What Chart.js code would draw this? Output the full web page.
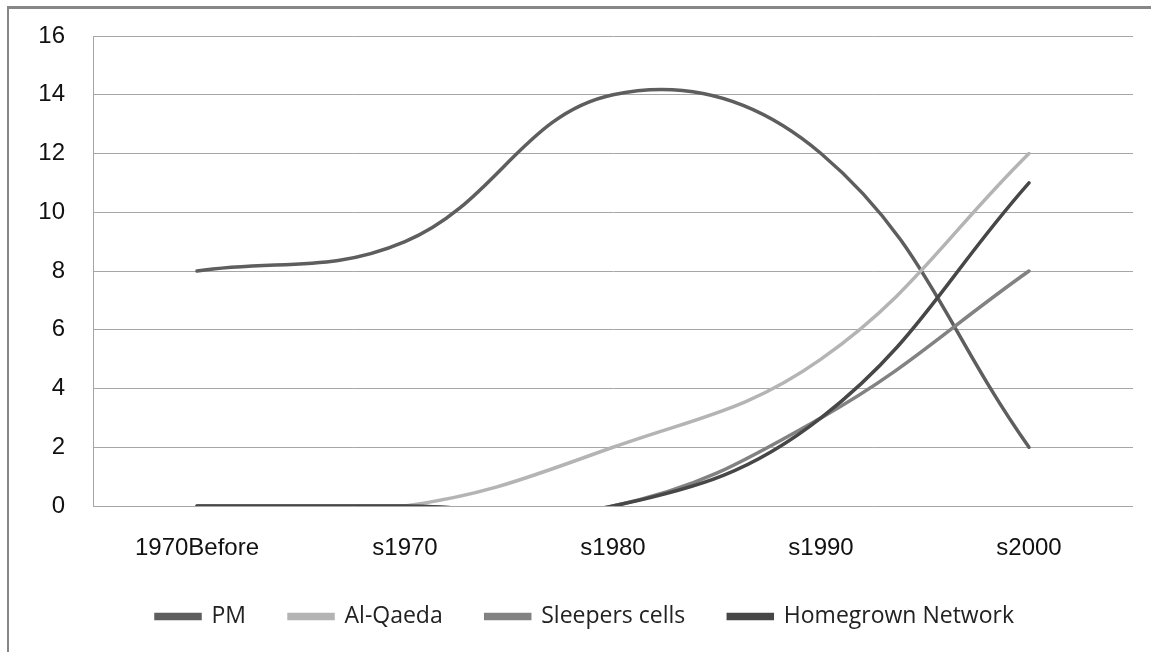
<!DOCTYPE html>
<html><head><meta charset="utf-8">
<script src="https://cdn.jsdelivr.net/npm/chart.js@4.4.1/dist/chart.umd.min.js"></script>
<style>
html,body{margin:0;padding:0;background:#fff;}
#wrap{position:relative;width:1151px;height:652px;overflow:hidden;}
#frame{position:absolute;left:7px;top:6px;width:1200px;height:700px;border-left:2px solid #878787;border-top:3px solid #878787;box-sizing:border-box;}
canvas{position:absolute;left:0;top:0;}
</style></head>
<body><div id="wrap"><div id="frame"></div><canvas id="c" width="1151" height="652"></canvas></div>
<script>
const categories = ["1970Before", "s1970", "s1980", "s1990", "s2000"];
const pmValues = [8, 9, 14, 12, 2];
const alQaedaValues = [0, 0, 2, 5, 12];
const sleepersValues = [0, 0, 0, 3, 8];
const homegrownValues = [0, 0, 0, 3, 11];
const yTicks = [0, 2, 4, 6, 8, 10, 12, 14, 16];

const seriesNames = ["PM", "Al-Qaeda", "Sleepers cells", "Homegrown Network"];
const seriesColors = ["#5e5e5e", "#b4b4b4", "#828282", "#474747"];
const seriesData = [pmValues, alQaedaValues, sleepersValues, homegrownValues];

new Chart(document.getElementById('c'), {
  type: 'line',
  data: {
    labels: categories,
    datasets: seriesData.map((d, i) => ({
      label: seriesNames[i],
      data: d,
      borderColor: seriesColors[i],
      backgroundColor: seriesColors[i],
      borderWidth: 3.5,
      pointRadius: 0,
      tension: 0.4,
      borderCapStyle: 'round',
      order: seriesData.length - 1 - i,
      fill: false
    }))
  },
  options: {
    responsive: false,
    animation: false,
    devicePixelRatio: 1,
    elements: { line: { capBezierPoints: false } },
    layout: { padding: { left: 37, right: 18, top: 36, bottom: 14 } },
    plugins: {
      tooltip: { enabled: false },
      legend: {
        position: 'bottom',
        maxHeight: 87,
        labels: {
          boxWidth: 44, boxHeight: 4, padding: 43,
          color: '#222',
          font: { family: "'Open Sans'", size: 23 },
          sort: (a, b) => a.datasetIndex - b.datasetIndex
        }
      }
    },
    scales: {
      x: {
        offset: true,
        afterFit: (s) => { s.height = 56; },
        grid: { display: false, drawTicks: false },
        border: { display: false },
        ticks: { padding: 28, color: '#111', font: { family: "'Liberation Sans'", size: 24 }, maxRotation: 0 }
      },
      y: {
        min: 0, max: 16,
        afterFit: (s) => { s.width = 56; s.paddingTop = 14; s.paddingBottom = 14; },
        afterBuildTicks: (s) => { s.ticks = yTicks.map(v => ({ value: v })); },
        grid: { color: '#a6a6a6', lineWidth: 1, drawTicks: false },
        border: { display: true, color: '#a6a6a6' },
        ticks: { padding: 28, color: '#111', font: { family: "'Liberation Sans'", size: 24 } }
      }
    }
  }
});
</script></body></html>
